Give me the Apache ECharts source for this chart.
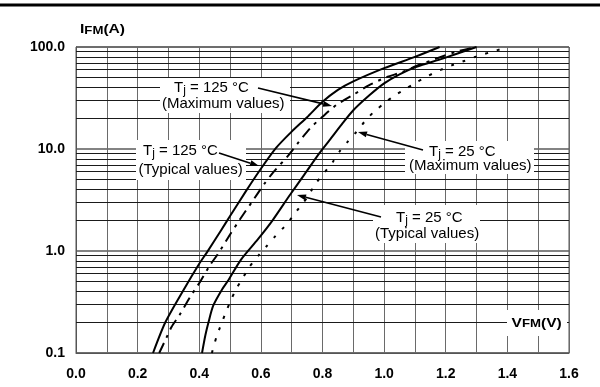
<!DOCTYPE html>
<html><head><meta charset="utf-8">
<script src="https://cdn.jsdelivr.net/npm/echarts@6/dist/echarts.min.js"></script>
<style>html,body{margin:0;padding:0;background:#fff}#c{width:600px;height:387px}</style>
</head><body><div id="c"></div>
<script>
// ---- data ----
const xLabelValues = [0.0, 0.2, 0.4, 0.6, 0.8, 1.0, 1.2, 1.4, 1.6];
const yLabelValues = [0.1, 1, 10, 100];
const yMinorLines = [0.2,0.3,0.4,0.5,0.6,0.7,0.8,0.9, 2,3,4,5,6,7,8,9, 20,30,40,50,60,70,80,90];

const v125Typ = [0.25, 0.29, 0.35, 0.40, 0.425, 0.47, 0.50, 0.55, 0.60, 0.65, 0.70, 0.75, 0.80, 0.85, 0.90, 1.00, 1.10, 1.18];
const i125Typ = [0.1, 0.2, 0.42, 0.75, 0.97, 1.58, 2.2, 3.8, 6.4, 10.3, 14.8, 20.5, 29, 38, 46, 62, 80, 100];

const v125Max = [0.27, 0.293, 0.31, 0.336, 0.371, 0.403, 0.434, 0.46, 0.50, 0.53, 0.57, 0.61, 0.64, 0.69, 0.72, 0.76, 0.80, 0.845, 0.90, 0.95, 1.007, 1.06, 1.115, 1.235, 1.30];
const i125Max = [0.1, 0.14, 0.18, 0.236, 0.356, 0.5, 0.72, 0.93, 1.45, 2.0, 3.0, 4.5, 5.9, 8.7, 11.4, 16, 20.7, 27, 34, 42, 50.5, 57, 67, 90, 100];

const v25Typ = [0.409, 0.42, 0.43, 0.445, 0.474, 0.495, 0.535, 0.59, 0.638, 0.693, 0.741, 0.79, 0.823, 0.866, 0.90, 0.953, 1.0, 1.05, 1.105, 1.19, 1.30];
const i25Typ = [0.1, 0.15, 0.2, 0.29, 0.42, 0.52, 0.82, 1.3, 2.0, 3.5, 5.6, 9.1, 12.2, 18, 24, 33.8, 44, 54, 64, 77, 100];

const v25Max = [0.441, 0.456, 0.487, 0.503, 0.519, 0.541, 0.56, 0.59, 0.617, 0.647, 0.676, 0.701, 0.731, 0.752, 0.777, 0.834, 0.855, 0.882, 0.909, 0.937, 0.966, 1.0, 1.034, 1.07, 1.105, 1.142, 1.18, 1.219, 1.26, 1.30, 1.34, 1.38];
const i25Max = [0.1, 0.144, 0.254, 0.33, 0.42, 0.54, 0.68, 0.89, 1.1, 1.4, 1.73, 2.14, 2.82, 3.4, 4.54, 7.5, 9.4, 11.8, 14.6, 18.6, 23, 28, 33.5, 38.8, 45, 52, 59, 66, 73, 81, 88, 95.5];

// ---- helpers ----
const zip = (a, b) => a.map((v, k) => [v, b[k]]);
const FONT = '"Liberation Sans", Arial, Helvetica, sans-serif';

function curve(name, v, i, dash) {
  return {
    name, type: 'line', data: zip(v, i), showSymbol: false, smooth: 0.25,
    lineStyle: { color: '#000', width: 2, type: dash, cap: 'butt', join: 'round' }, z: 5, silent: true
  };
}

function tjText(x, y, temp) {
  return { type: 'text', x, y, z: 11, silent: true,
    style: { text: '{m|T}{s|j}{m| = ' + temp + ' °C}', align: 'left', verticalAlign: 'middle', fill: '#000',
      rich: { m: { fontSize: 15, lineHeight: 18, fontFamily: FONT, fill: '#000' },
              s: { fontSize: 12, lineHeight: 12, fontFamily: FONT, verticalAlign: 'bottom', fill: '#000' } } } };
}
function plainText(x, y, t) {
  return { type: 'text', x, y, z: 11, silent: true,
    style: { text: t, fontSize: 15, fontFamily: FONT, align: 'left', verticalAlign: 'middle', fill: '#000' } };
}
function whiteRect(x1, y1, x2, y2) {
  return { type: 'rect', z: 10, silent: true, shape: { x: x1, y: y1, width: x2 - x1, height: y2 - y1 }, style: { fill: '#fff' } };
}
function arrow(x1, y1, x2, y2) {
  const a = Math.atan2(y2 - y1, x2 - x1), L = 9, W = 3;
  const c = Math.cos(a), s = Math.sin(a);
  const bx = x2 - L * c, by = y2 - L * s;
  return [
    { type: 'line', z: 12, silent: true, shape: { x1, y1, x2: bx, y2: by }, style: { stroke: '#000', lineWidth: 1.6 } },
    { type: 'polygon', z: 12, silent: true, shape: { points: [[x2, y2], [bx - W * s, by + W * c], [bx + W * s, by - W * c]] }, style: { fill: '#000' } }
  ];
}
function axisName(x, y, big, small, tail) {
  return { type: 'text', x, y, z: 11, scaleX: 1.2, silent: true,
    style: { text: '{b|' + big + '}{s|' + small + '}{b|' + tail + '}', align: 'left', verticalAlign: 'middle',
      rich: { b: { fontSize: 13, lineHeight: 13, fontWeight: 'bold', fontFamily: FONT, verticalAlign: 'bottom', fill: '#000' },
              s: { fontSize: 11, lineHeight: 11, fontWeight: 'bold', fontFamily: FONT, verticalAlign: 'bottom', fill: '#000' } } } };
}

const chart = echarts.init(document.getElementById('c'), null, { renderer: 'canvas' });
chart.setOption({
  animation: false,
  backgroundColor: '#fff',
  grid: { left: 76, right: 31, top: 47, bottom: 34, show: true, borderColor: '#555', borderWidth: 1 },
  xAxis: {
    type: 'value', min: 0, max: 1.6, interval: 0.1,
    axisLine: { show: true, lineStyle: { color: '#555', width: 1 } },
    axisTick: { show: false },
    axisLabel: {
      margin: 14, fontSize: 14, fontWeight: 'bold', fontFamily: FONT, color: '#000',
      formatter: v => { const r = Math.round(v * 10); return xLabelValues.some(t => Math.round(t * 10) === r) ? (r / 10).toFixed(1) : ''; }
    },
    splitLine: { show: true, lineStyle: { color: '#6a6a6a', width: 1 } }
  },
  yAxis: {
    type: 'log', logBase: 10, min: 0.1, max: 100,
    axisLine: { show: true, lineStyle: { color: '#555', width: 1 } },
    axisTick: { show: false },
    axisLabel: {
      margin: 11, fontSize: 14, fontWeight: 'bold', fontFamily: FONT, color: '#000',
      formatter: v => { const m = yLabelValues.find(t => Math.abs(t - v) / t < 1e-6); return m !== undefined ? m.toFixed(1) : ''; }
    },
    splitLine: { show: true, lineStyle: { color: '#5a5a5a', width: 1.5 } }
  },
  series: [
    { name: 'minor', type: 'line', data: [], silent: true, z: 1,
      markLine: { silent: true, symbol: 'none', label: { show: false }, animation: false,
        lineStyle: { color: '#1a1a1a', width: 1, type: 'solid' },
        data: yMinorLines.map(v => ({ yAxis: v })) } },
    curve('Tj=125 typ', v125Typ, i125Typ, 'solid'),
    curve('Tj=125 max', v125Max, i125Max, [11, 6, 3, 6]),
    curve('Tj=25 typ', v25Typ, i25Typ, 'solid'),
    curve('Tj=25 max', v25Max, i25Max, [3, 9])
  ],
  graphic: [
    { type: 'rect', z: 10, silent: true, shape: { x: 0, y: 3.5, width: 600, height: 3 }, style: { fill: '#000' } },
    axisName(80, 29.5, 'I', 'FM', '(A)'),
    whiteRect(507, 310, 567, 336),
    axisName(511.5, 323, 'V', 'FM', '(V)'),
    // Tj = 125 max
    whiteRect(160, 78, 290, 113),
    tjText(174, 88, '125'),
    plainText(162, 104, '(Maximum values)'),
    ...arrow(258, 88, 332, 106),
    // Tj = 125 typ
    whiteRect(136, 140, 246, 180),
    tjText(143, 151, '125'),
    plainText(138.5, 170, '(Typical values)'),
    ...arrow(219, 153, 259, 166),
    // Tj = 25 max
    whiteRect(405, 141, 534, 174),
    tjText(429, 151.5, '25'),
    plainText(409, 165.5, '(Maximum values)'),
    ...arrow(423, 150, 358, 132),
    // Tj = 25 typ
    whiteRect(373, 205, 480, 243),
    tjText(396, 217.5, '25'),
    plainText(375, 233.5, '(Typical values)'),
    ...arrow(381, 217, 297, 195)
  ]
});
</script>
</body></html>
